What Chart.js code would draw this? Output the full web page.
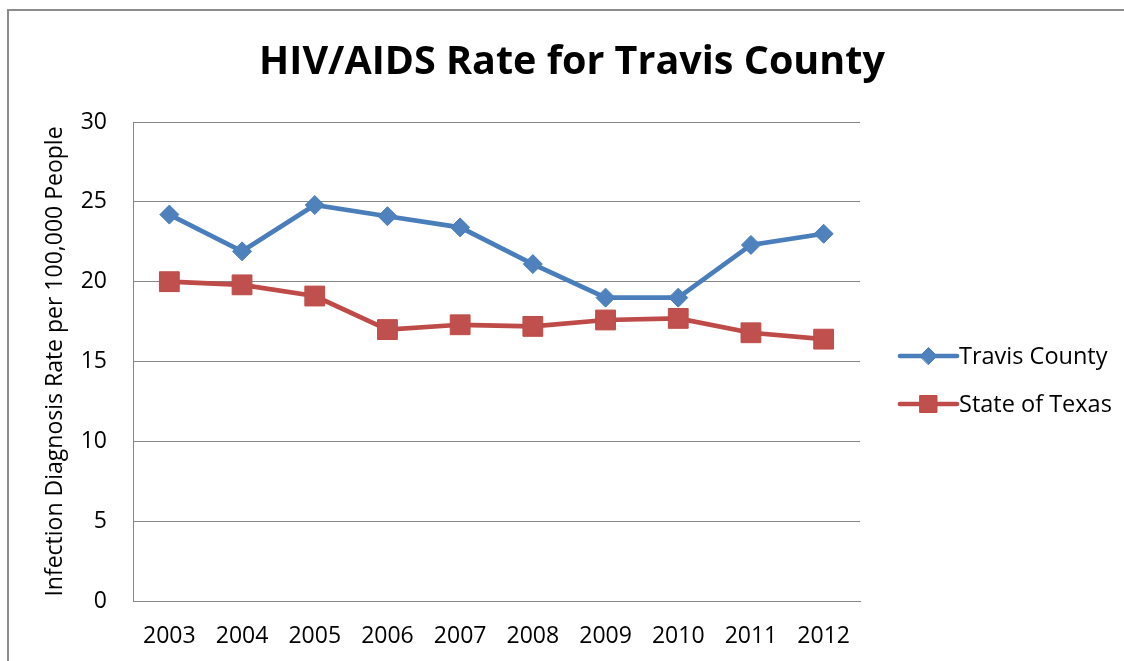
<!DOCTYPE html>
<html>
<head>
<meta charset="utf-8">
<title>HIV/AIDS Rate for Travis County</title>
<script src="https://cdn.jsdelivr.net/npm/chart.js@4.4.1/dist/chart.umd.min.js"></script>
<style>
  html, body { margin: 0; padding: 0; background: #fff; }
  #wrap { position: relative; width: 1124px; height: 661px; overflow: hidden; }
</style>
</head>
<body>
<div id="wrap"><canvas id="rateChart" width="1124" height="661"></canvas></div>
<script>
const years = ['2003', '2004', '2005', '2006', '2007', '2008', '2009', '2010', '2011', '2012'];
const travisCounty = [24.2, 21.9, 24.8, 24.1, 23.4, 21.1, 19.0, 19.0, 22.3, 23.0];
const stateOfTexas = [20.0, 19.8, 19.1, 17.0, 17.3, 17.2, 17.6, 17.7, 16.8, 16.4];
const yMin = 0, yMax = 30, yStep = 5;

const FONT = "'Open Sans', 'Noto Sans', sans-serif";
const GRID = '#868686';

// outer frame of the chart object
const frame = {
  id: 'frame',
  beforeDraw(chart) {
    const ctx = chart.ctx;
    ctx.save();
    ctx.strokeStyle = '#8c8c8c';
    ctx.lineWidth = 2;
    ctx.beginPath();
    ctx.moveTo(8, chart.height + 2);
    ctx.lineTo(8, 10);
    ctx.lineTo(chart.width + 2, 10);
    ctx.stroke();
    ctx.restore();
  }
};

function marker(ctx, style, x, y, r, fill, stroke) {
  ctx.beginPath();
  if (style === 'rectRot') {
    ctx.moveTo(x - r, y);
    ctx.lineTo(x, y - r);
    ctx.lineTo(x + r, y);
    ctx.lineTo(x, y + r);
  } else {
    ctx.rect(x - r, y - r, 2 * r, 2 * r);
  }
  ctx.closePath();
  ctx.fillStyle = fill;
  ctx.fill();
  ctx.strokeStyle = stroke;
  ctx.lineWidth = 1;
  ctx.stroke();
}

// legend on the right: short line with the series marker in its middle
const lineLegend = {
  id: 'lineLegend',
  afterDraw(chart) {
    const ctx = chart.ctx;
    const x0 = chart.chartArea.right + 40;
    const len = 57;
    let y = 356;
    ctx.save();
    chart.data.datasets.forEach(ds => {
      ctx.strokeStyle = ds.borderColor;
      ctx.lineWidth = ds.borderWidth;
      ctx.lineCap = 'round';
      ctx.beginPath();
      ctx.moveTo(x0, y);
      ctx.lineTo(x0 + len, y);
      ctx.stroke();
      marker(ctx, ds.pointStyle, x0 + len / 2, y, 8.5, ds.pointBackgroundColor, ds.pointBorderColor);
      ctx.fillStyle = '#000';
      ctx.font = '23.5px ' + FONT;
      ctx.textBaseline = 'middle';
      ctx.textAlign = 'left';
      ctx.fillText(ds.label, x0 + len + 2, y + 1);
      y += 48;
    });
    ctx.restore();
  }
};

new Chart(document.getElementById('rateChart'), {
  type: 'line',
  data: {
    labels: years,
    datasets: [{
      label: 'Travis County',
      data: travisCounty,
      borderColor: '#4A7EBB',
      borderWidth: 4.7,
      pointStyle: 'rectRot',
      pointRadius: 9.5,
      pointBackgroundColor: '#4F81BD',
      pointBorderColor: '#4A7EBB',
      pointBorderWidth: 1,
      tension: 0
    }, {
      label: 'State of Texas',
      data: stateOfTexas,
      borderColor: '#BE4B48',
      borderWidth: 4.7,
      pointStyle: 'rect',
      pointRadius: 14,
      pointBackgroundColor: '#C0504D',
      pointBorderColor: '#BE4B48',
      pointBorderWidth: 1,
      tension: 0
    }]
  },
  options: {
    responsive: false,
    animation: false,
    layout: { padding: { left: 20, right: 0, top: 0, bottom: 0 } },
    plugins: {
      legend: { display: false },
      tooltip: { enabled: false },
      title: {
        display: true,
        text: 'HIV/AIDS Rate for Travis County',
        color: '#000',
        font: { family: FONT, size: 39.5, weight: 'bold', lineHeight: 1.2 },
        padding: { top: 39, bottom: 35.6 }
      }
    },
    scales: {
      x: {
        offset: true,
        grid: { color: 'rgba(0,0,0,0)', drawTicks: false },
        border: { display: true, color: GRID, width: 1 },
        ticks: { color: '#000', font: { family: FONT, size: 23 }, padding: 22, maxRotation: 0 },
        afterFit(s) { s.height = 60; }
      },
      y: {
        min: yMin,
        max: yMax,
        grid: { color: GRID, drawTicks: false },
        border: { display: true, color: GRID, width: 1 },
        ticks: { stepSize: yStep, color: '#000', font: { family: FONT, size: 23 }, padding: 26 },
        title: {
          display: true,
          text: 'Infection Diagnosis Rate per 100,000 People',
          color: '#000',
          font: { family: FONT, size: 23, lineHeight: 1.2 },
          padding: { top: 22, bottom: 0 }
        },
        afterFit(s) { s.width = 113; }
      },
      // empty axis on the right keeps room for the legend
      legendSpace: {
        axis: 'y',
        position: 'right',
        grid: { display: false, drawTicks: false },
        border: { display: false },
        ticks: { display: false },
        afterFit(s) { s.width = 264; }
      }
    }
  },
  plugins: [frame, lineLegend]
});
</script>
</body>
</html>
